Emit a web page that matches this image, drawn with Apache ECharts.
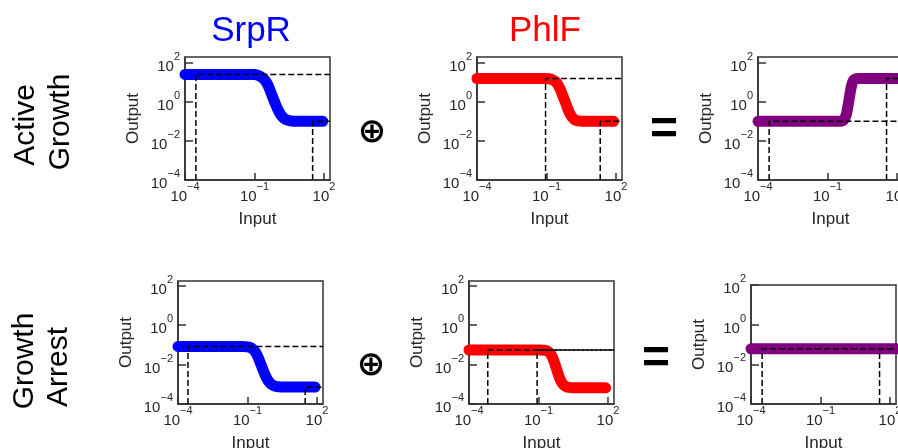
<!DOCTYPE html>
<html>
<head>
<meta charset="utf-8">
<script src="https://cdn.jsdelivr.net/npm/echarts@6/dist/echarts.min.js"></script>
<style>
  html, body { margin: 0; padding: 0; background: #fff; }
  #chart { width: 898px; height: 448px; }
</style>
</head>
<body>
<div id="chart"></div>
<script>
// all values are log10 exponents (axes are log-log)
const xTicks = [-4, -1, 2]
const yTicks = [-4, -2, 0, 2]

// transfer curves [log10 input, log10 output]
const srprActive = [[-4, 1.4], [-1.2, 1.4], [-1.0, 1.39], [-0.9, 1.37], [-0.8, 1.33], [-0.7, 1.26], [-0.6, 1.17], [-0.5, 1.02], [-0.4, 0.8], [-0.3, 0.5], [-0.2, 0.2], [-0.1, -0.1], [0.0, -0.38], [0.1, -0.6], [0.2, -0.76], [0.3, -0.87], [0.4, -0.93], [0.5, -0.96], [0.7, -0.99], [1.0, -1.0], [1.95, -1.0]]
const phlfActive = [[-4, 1.19], [-1.1, 1.19], [-0.9, 1.18], [-0.8, 1.15], [-0.7, 1.1], [-0.6, 1.02], [-0.5, 0.86], [-0.4, 0.62], [-0.3, 0.32], [-0.2, 0.02], [-0.1, -0.3], [0.0, -0.58], [0.1, -0.78], [0.2, -0.9], [0.3, -0.96], [0.45, -0.99], [0.7, -1.0], [1.9, -1.0]]
const outActive = [[-4, -1.0], [-0.5, -1.0], [-0.4, -0.99], [-0.3, -0.93], [-0.2, -0.7], [-0.15, -0.45], [-0.1, -0.1], [-0.05, 0.25], [0.0, 0.6], [0.05, 0.88], [0.1, 1.05], [0.15, 1.13], [0.25, 1.18], [0.4, 1.19], [2.3, 1.19]]
const srprArrest = [[-4, -1.08], [-1.2, -1.08], [-1.0, -1.1], [-0.9, -1.13], [-0.8, -1.19], [-0.7, -1.3], [-0.6, -1.48], [-0.5, -1.75], [-0.4, -2.05], [-0.3, -2.35], [-0.2, -2.62], [-0.1, -2.83], [0.0, -2.97], [0.1, -3.05], [0.2, -3.1], [0.35, -3.13], [0.6, -3.14], [1.92, -3.14]]
const phlfArrest = [[-4, -1.26], [-0.9, -1.26], [-0.7, -1.28], [-0.6, -1.33], [-0.5, -1.42], [-0.4, -1.62], [-0.3, -1.93], [-0.2, -2.3], [-0.1, -2.65], [0.0, -2.9], [0.1, -3.05], [0.2, -3.12], [0.3, -3.16], [0.5, -3.18], [1.9, -3.18]]
const outArrest = [[-4, -1.22], [2.3, -1.22]]

// dashed guide points (input level, output level)
const srprActiveGuides = [[-3.53, 1.4], [1.51, -1.0]]
const phlfActiveGuides = [[-1.04, 1.19], [1.32, -1.0]]
const outActiveGuides = [[-3.52, -1.0], [1.55, 1.19]]
const srprArrestGuides = [[-3.57, -1.08], [1.49, -3.15]]
const phlfArrestGuides = [[-3.19, -1.26], [-1.06, -1.26]]
const outArrestGuides = [[-3.52, -1.22], [1.55, -1.22]]

const BLUE = '#0000ff'
const RED = '#ff0000'
const PURPLE = '#800080'
const FONT = 'Liberation Sans, Arial, sans-serif'
const X_MIN = -4
const Y_MIN = -4

const panels = [
  { box: { left: 185, top: 57, width: 145, height: 123 }, xMax: 2.26, yMax: 2.29, curve: srprActive, guides: srprActiveGuides, color: BLUE },
  { box: { left: 477, top: 57, width: 145, height: 123 }, xMax: 2.26, yMax: 2.29, curve: phlfActive, guides: phlfActiveGuides, color: RED },
  { box: { left: 758, top: 57, width: 145, height: 123 }, xMax: 2.26, yMax: 2.29, curve: outActive, guides: outActiveGuides, color: PURPLE },
  { box: { left: 178, top: 281, width: 145, height: 123 }, xMax: 2.26, yMax: 2.24, curve: srprArrest, guides: srprArrestGuides, color: BLUE },
  { box: { left: 469, top: 281, width: 145, height: 123 }, xMax: 2.26, yMax: 2.24, curve: phlfArrest, guides: phlfArrestGuides, color: RED },
  { box: { left: 751, top: 285, width: 145, height: 119 }, xMax: 2.26, yMax: 2.0, curve: outArrest, guides: outArrestGuides, color: PURPLE },
]

// 10^n label with a raised exponent
function pow10(v) {
  const n = Math.round(v)
  return '{b|10}{s|' + (n < 0 ? '\u2212' + (-n) : n) + '}'
}
const powRich = {
  b: { fontSize: 15, fontFamily: FONT, color: '#262626', verticalAlign: 'bottom' },
  s: { fontSize: 11, fontFamily: FONT, color: '#262626', verticalAlign: 'top' },
}
const tickStyle = { color: '#333', width: 1.5 }
const nameStyle = { fontSize: 17, fontFamily: FONT, color: '#262626' }

const grids = []
const xAxes = []
const yAxes = []
const series = []

panels.forEach((p, i) => {
  grids.push({
    ...p.box,
    show: true,
    borderColor: '#333',
    borderWidth: 1.5,
    backgroundColor: 'transparent',
    containLabel: false,
    outerBoundsMode: 'none',
  })
  xAxes.push({
    type: 'value',
    gridIndex: i,
    min: X_MIN,
    max: p.xMax,
    axisLine: { show: true, onZero: false, lineStyle: tickStyle },
    splitLine: { show: false },
    axisTick: { show: true, inside: true, length: 7, customValues: xTicks, lineStyle: tickStyle },
    axisLabel: { customValues: xTicks, formatter: pow10, rich: powRich, lineHeight: 23, margin: 1 },
    name: 'Input',
    nameLocation: 'middle',
    nameGap: 31,
    nameTextStyle: nameStyle,
  })
  yAxes.push({
    type: 'value',
    gridIndex: i,
    min: Y_MIN,
    max: p.yMax,
    axisLine: { show: true, onZero: false, lineStyle: tickStyle },
    splitLine: { show: false },
    axisTick: { show: true, inside: true, length: 8, customValues: yTicks, lineStyle: tickStyle },
    axisLabel: { customValues: yTicks, formatter: pow10, rich: powRich, lineHeight: 23, margin: 5 },
    name: 'Output',
    nameLocation: 'middle',
    nameGap: 43,
    nameTextStyle: nameStyle,
  })
  series.push({
    type: 'line',
    xAxisIndex: i,
    yAxisIndex: i,
    data: p.curve,
    smooth: 0.3,
    symbol: 'none',
    silent: true,
    clip: true,
    lineStyle: { width: 11, color: p.color, cap: 'round', join: 'round' },
    z: 2,
  })
  // dashed L-shaped guides: up from the x axis, then across to the right edge
  p.guides.forEach((g) => {
    series.push({
      type: 'line',
      xAxisIndex: i,
      yAxisIndex: i,
      data: [[g[0], Y_MIN], [g[0], g[1]], [p.xMax, g[1]]],
      symbol: 'none',
      silent: true,
      clip: true,
      lineStyle: { width: 1.5, color: '#000', type: [6, 3] },
      z: 3,
    })
  })
})

function txt(text, x, y, size, color, extra, family, weight) {
  return Object.assign({
    type: 'text',
    x: x,
    y: y,
    silent: true,
    style: {
      text: text, fontSize: size, fontFamily: family || FONT, fontWeight: weight || 'normal',
      fill: color, align: 'center', verticalAlign: 'middle',
    },
  }, extra || {})
}

const graphics = [
  txt('SrpR', 251, 31, 35, BLUE),
  txt('PhlF', 545, 31, 35, RED),
  txt('Active', 26, 125, 30, '#000', { rotation: Math.PI / 2 }),
  txt('Growth', 61, 122, 30, '#000', { rotation: Math.PI / 2 }),
  txt('Growth', 25, 361, 30, '#000', { rotation: Math.PI / 2 }),
  txt('Arrest', 59, 367, 30, '#000', { rotation: Math.PI / 2 }),
  txt('\u2295', 372, 133, 34, '#000', {}, 'DejaVu Sans', 'bold'),
  txt('\u2295', 371, 366, 34, '#000', {}, 'DejaVu Sans', 'bold'),
  txt('=', 664, 131, 48, '#000', {}, FONT, 'bold'),
  txt('=', 656, 360, 48, '#000', {}, FONT, 'bold'),
]

const chart = echarts.init(document.getElementById('chart'), null, { renderer: 'canvas' })
chart.setOption({
  animation: false,
  backgroundColor: '#fff',
  grid: grids,
  xAxis: xAxes,
  yAxis: yAxes,
  series: series,
  graphic: graphics,
})
</script>
</body>
</html>
